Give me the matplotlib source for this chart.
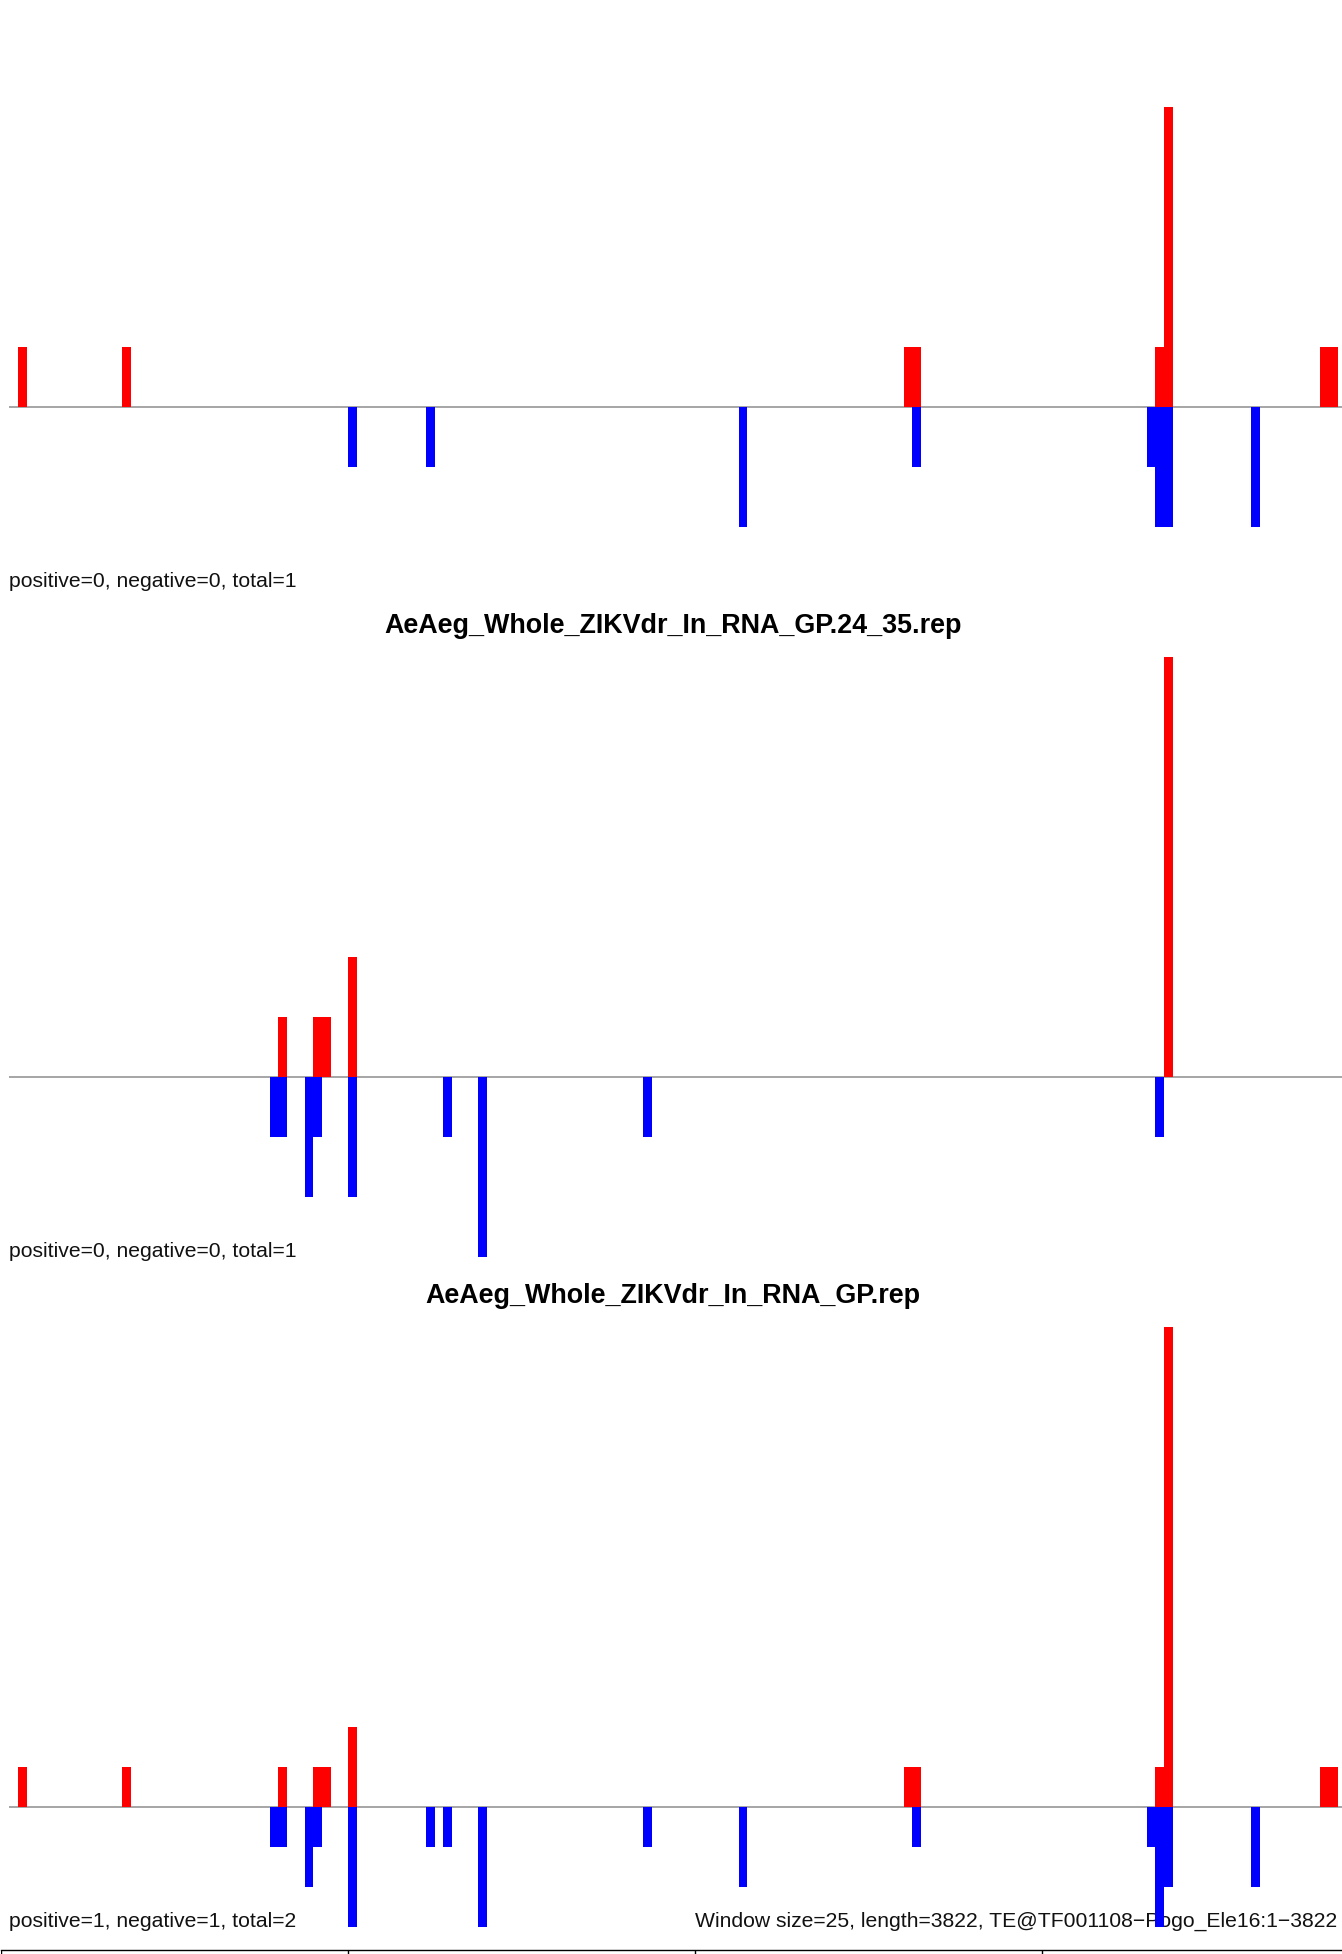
import matplotlib
matplotlib.use("Agg")
import matplotlib.pyplot as plt

# ---------------- data ----------------
window = 25
length = 3822

titles = [None,
          "AeAeg_Whole_ZIKVdr_In_RNA_GP.24_35.rep",
          "AeAeg_Whole_ZIKVdr_In_RNA_GP.rep"]
stats = ["positive=0, negative=0, total=1",
         "positive=0, negative=0, total=1",
         "positive=1, negative=1, total=2"]
footer = "Window size=25, length=3822, TE@TF001108\u2212Pogo_Ele16:1\u22123822"

p1_pos_bins = [1, 13, 103, 104, 132, 133, 151, 152]
p1_pos_vals = [1, 1, 1, 1, 1, 5, 1, 1]
p1_neg_bins = [39, 48, 84, 104, 131, 132, 133, 143]
p1_neg_vals = [1, 1, 2, 1, 1, 2, 2, 2]

p2_pos_bins = [31, 35, 36, 39, 133]
p2_pos_vals = [1, 1, 1, 2, 7]
p2_neg_bins = [30, 31, 34, 35, 39, 50, 54, 73, 132]
p2_neg_vals = [1, 1, 2, 1, 2, 1, 3, 1, 1]

p3_pos_bins = [1, 13, 31, 35, 36, 39, 103, 104, 132, 133, 151, 152]
p3_pos_vals = [1, 1, 1, 1, 1, 2, 1, 1, 1, 12, 1, 1]
p3_neg_bins = [30, 31, 34, 35, 39, 48, 50, 54, 73, 84, 104, 131, 132, 133, 143]
p3_neg_vals = [1, 1, 2, 1, 3, 1, 1, 3, 1, 2, 1, 1, 3, 2, 2]

ylims = [(-3, 7), (-3, 7), (-3, 12)]
bottom_grid = [0, 1000, 2000, 3000]

panels = [(p1_pos_bins, p1_pos_vals, p1_neg_bins, p1_neg_vals),
          (p2_pos_bins, p2_pos_vals, p2_neg_bins, p2_neg_vals),
          (p3_pos_bins, p3_pos_vals, p3_neg_bins, p3_neg_vals)]

# ---------------- layout ----------------
W, H, DPI = 1342, 1954, 100
fig = plt.figure(figsize=(W / DPI, H / DPI), dpi=DPI, facecolor="white")
FONT = ["Liberation Sans", "DejaVu Sans"]

px_per_bp = 8.683 / window
left_px = 9.32
xmax = (W - left_px) / px_per_bp
panel_h = 600.0
pitch = 670.0
first_top = -13.3

for i, (pb, pv, nb, nv) in enumerate(panels):
    top = first_top + pitch * i
    bottom = top + panel_h
    ax = fig.add_axes([left_px / W, (H - bottom) / H, (W - left_px) / W, panel_h / H])
    ax.set_xlim(0, xmax)
    ax.set_ylim(*ylims[i])
    ax.axis("off")
    ax.axhline(0, color="#969696", lw=1.2, zorder=2)
    ax.bar([b * window for b in pb], pv, width=window, align="edge",
           color="#ff0000", linewidth=0, zorder=3)
    ax.bar([b * window for b in nb], [-v for v in nv], width=window, align="edge",
           color="#0000ff", linewidth=0, zorder=3)
    ax.text(0, ylims[i][0], stats[i], ha="left", va="baseline",
            fontsize=15.2, family=FONT, color="#111111", zorder=1)
    if titles[i]:
        ax.annotate(titles[i], xy=(length / 2, ylims[i][1]), xytext=(0, 16.8),
                    textcoords="offset points", ha="center", va="baseline",
                    fontsize=19.4, fontweight="bold", family=FONT, color="black",
                    annotation_clip=False)
    if i == len(panels) - 1:
        ax.text(length, ylims[i][0], footer, ha="right", va="baseline",
                fontsize=15.2, family=FONT, color="#111111", zorder=1)

# bottom box row (partially visible)
btop = 1950.0
bax = fig.add_axes([0.5 / W, (H - btop - 200) / H, (W - 0.5) / W, 200 / H])
bax.set_xlim(0, (W - 0.5) / px_per_bp)
bax.set_ylim(0, 1)
bax.axis("off")
bax.axhline(1, color="black", lw=1.0, clip_on=False)
for g in bottom_grid:
    bax.axvline(g, color="black", lw=1.0)

fig.savefig("out.png", dpi=DPI, facecolor="white")
